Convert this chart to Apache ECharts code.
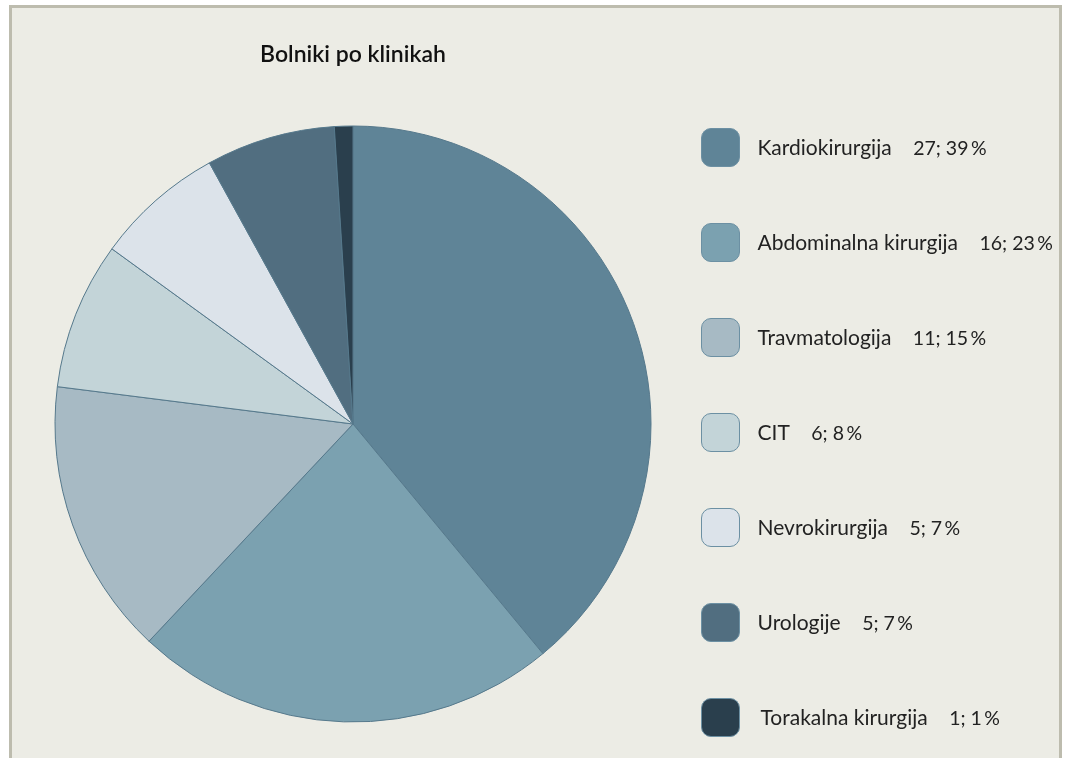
<!DOCTYPE html>
<html><head><meta charset="utf-8">
<script src="https://cdn.jsdelivr.net/npm/echarts@6/dist/echarts.min.js"></script>
<style>html,body{margin:0;padding:0;background:#fff}#c{width:1066px;height:758px}</style>
</head><body><div id="c"></div>
<script>
const categories = ['Kardiokirurgija','Abdominalna kirurgija','Travmatologija','CIT','Nevrokirurgija','Urologije','Torakalna kirurgija'];
const counts = [27,16,11,6,5,5,1];
const percents = [39,23,15,8,7,7,1];
const colors = ['#5F8497','#7BA1B0','#A7BAC4','#C3D4D8','#DCE3EA','#516E80','#2A3F4D'];

const chart = echarts.init(document.getElementById('c'));
const data = categories.map((n,i)=>({name:n,value:percents[i],itemStyle:{color:colors[i]}}));
const legendData = categories.map((n,i)=> i===categories.length-1 ? {name:n,textStyle:{padding:[2,0,0,16]}} : {name:n});
chart.setOption({
  animation:false,
  graphic:[{type:'rect',z:-10,shape:{x:10.5,y:6.5,width:1050,height:800},style:{fill:'#ECECE5',stroke:'#BDBCAE',lineWidth:3}}],
  title:{text:'Bolniki po klinikah',left:353,textAlign:'center',top:43,padding:0,
    textStyle:{fontFamily:'Lato',fontSize:23,fontWeight:600,color:'#111'}},
  legend:{orient:'vertical',left:701,top:128,padding:0,itemWidth:38,itemHeight:38,itemGap:56,icon:'roundRect',
    itemStyle:{borderColor:'#6C90A3',borderWidth:1},
    textStyle:{fontFamily:'Lato',fontSize:21,color:'#222',padding:[2,0,0,13],
      rich:{v:{fontFamily:'Lato',fontSize:19.5,color:'#222'}}},
    formatter:function(name){const i=categories.indexOf(name);return name+'    {v|'+counts[i]+'; '+percents[i]+'\u2009%}';},
    data:legendData},
  series:[{type:'pie',center:[353,424],radius:298,startAngle:90,clockwise:true,
    label:{show:false},labelLine:{show:false},silent:true,
    itemStyle:{borderColor:'#56798C',borderWidth:1},
    data:data}]
});
</script></body></html>
